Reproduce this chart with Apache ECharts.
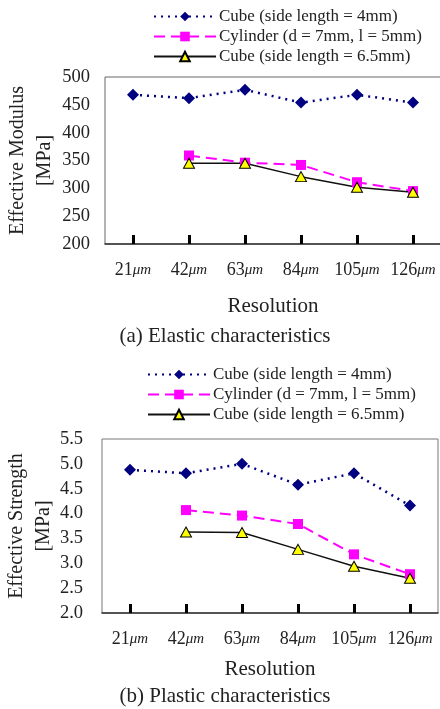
<!DOCTYPE html>
<html>
<head>
<meta charset="utf-8">
<script src="https://cdn.jsdelivr.net/npm/echarts@6/dist/echarts.min.js"></script>
<style>
html,body{margin:0;padding:0;background:#fff;}
#chart{width:440px;height:709px;}
</style>
</head>
<body>
<div id="chart"></div>
<script>
// ---- data ----
var categories = ['21', '42', '63', '84', '105', '126'];
var unitLabel = 'μm';
var seriesNames = ['Cube (side length = 4mm)', 'Cylinder (d = 7mm, l = 5mm)', 'Cube (side length = 6.5mm)'];
var modulusCube4 = [468, 462, 477, 454, 468, 454];
var modulusCylinder = [null, 359, 346, 342, 311, 295];
var modulusCube65 = [null, 345, 345, 321, 302, 293];
var strengthCube4 = [4.88, 4.81, 5.00, 4.58, 4.81, 4.16];
var strengthCylinder = [null, 4.07, 3.96, 3.79, 3.18, 2.78];
var strengthCube65 = [null, 3.63, 3.62, 3.28, 2.94, 2.70];
var modulusTicks = { min: 200, max: 500, interval: 50 };
var strengthTicks = { min: 2.0, max: 5.5, interval: 0.5 };
var captions = ['(a) Elastic characteristics', '(b) Plastic characteristics'];
var yNames = ['Effective Modulus\n[MPa]', 'Effective Strength\n[MPa]'];
var xName = 'Resolution';

// ---- styles ----
var FONT = '"Liberation Serif", "Times New Roman", serif';
var TXT = '#222';
var styles = [
  { color: '#000080', line: { color: '#000080', width: 2.5, type: [2, 5] }, symbol: 'diamond', size: [12, 12], border: 0 },
  { color: '#FF00FF', line: { color: '#FF00FF', width: 2, type: [11, 6] }, symbol: 'rect', size: 10, border: 0 },
  { color: '#FFFF00', line: { color: '#111', width: 1.5, type: 'solid' }, symbol: 'triangle', size: [11, 10], border: 1 }
];

function mkSeries(name, data, st, idx) {
  return {
    name: name, type: 'line', data: data,
    xAxisIndex: idx, yAxisIndex: idx,
    symbol: st.symbol, symbolSize: st.size, showAllSymbol: true,
    lineStyle: st.line,
    itemStyle: { color: st.color, borderColor: '#000', borderWidth: st.border },
    connectNulls: false, animation: false
  };
}

function mkX(idx, nameGap) {
  return {
    type: 'category', gridIndex: idx, data: categories, boundaryGap: true,
    axisLine: { show: true, lineStyle: { color: '#333', width: 1.5 } },
    axisTick: { show: true, inside: true, alignWithLabel: true, length: 9, lineStyle: { color: '#000', width: 3 } },
    axisLabel: {
      margin: 17, interval: 0,
      formatter: function (v) { return '{n|' + v + '}{u|' + unitLabel + '}'; },
      rich: {
        n: { fontFamily: FONT, fontSize: 18, color: TXT },
        u: { fontFamily: FONT, fontSize: 15, fontStyle: 'italic', color: TXT }
      }
    },
    name: xName, nameLocation: 'middle', nameGap: nameGap, nameMoveOverlap: false,
    nameTextStyle: { fontFamily: FONT, fontSize: 21, color: TXT }
  };
}

function mkY(idx, t, name, nameGap, margin, dec) {
  return {
    type: 'value', gridIndex: idx, min: t.min, max: t.max, interval: t.interval,
    axisLine: { show: false }, axisTick: { show: false }, splitLine: { show: false },
    axisLabel: {
      margin: margin, fontFamily: FONT, fontSize: 18.5, color: TXT,
      formatter: function (v) { return dec ? v.toFixed(1) : String(v); }
    },
    name: name, nameLocation: 'middle', nameRotate: 90, nameGap: nameGap, nameMoveOverlap: false,
    nameTextStyle: { fontFamily: FONT, fontSize: 20, color: TXT, lineHeight: 27, align: 'center' }
  };
}

function mkLegend(left, top) {
  return {
    orient: 'vertical', left: left, top: top,
    itemWidth: 62, itemHeight: 12, itemGap: 3,
    data: seriesNames,
    textStyle: { fontFamily: FONT, fontSize: 17, color: TXT, padding: [0, 0, 0, -2] },
    selectedMode: false
  };
}

var chart = echarts.init(document.getElementById('chart'), null, { renderer: 'canvas' });
chart.setOption({
  backgroundColor: '#fff',
  animation: false,
  legend: [mkLegend(148, 3), mkLegend(142, 361)],
  grid: [
    { left: 105, top: 77, right: -1, bottom: 465, show: true, borderColor: '#666', borderWidth: 1, containLabel: false, outerBoundsMode: 'none' },
    { left: 102, top: 439, right: 2, bottom: 96, show: true, borderColor: '#777', borderWidth: 1, containLabel: false, outerBoundsMode: 'none' }
  ],
  xAxis: [mkX(0, 52), mkX(1, 46)],
  yAxis: [
    mkY(0, modulusTicks, yNames[0], 47, 15, false),
    mkY(1, strengthTicks, yNames[1], 45, 19, true)
  ],
  series: [
    mkSeries(seriesNames[0], modulusCube4, styles[0], 0),
    mkSeries(seriesNames[1], modulusCylinder, styles[1], 0),
    mkSeries(seriesNames[2], modulusCube65, styles[2], 0),
    mkSeries(seriesNames[0], strengthCube4, styles[0], 1),
    mkSeries(seriesNames[1], strengthCylinder, styles[1], 1),
    mkSeries(seriesNames[2], strengthCube65, styles[2], 1)
  ],
  graphic: [
    { type: 'text', x: 225, y: 336, style: { text: captions[0], font: '21px ' + FONT, fill: TXT, textAlign: 'center', textVerticalAlign: 'middle' } },
    { type: 'text', x: 225, y: 696, style: { text: captions[1], font: '21px ' + FONT, fill: TXT, textAlign: 'center', textVerticalAlign: 'middle' } }
  ]
});
</script>
</body>
</html>
